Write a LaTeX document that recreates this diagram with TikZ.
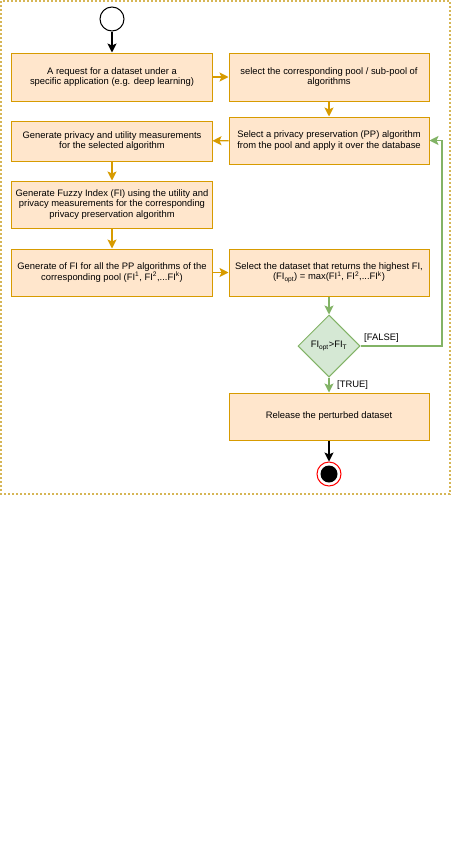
\documentclass[tikz,border=0pt]{standalone}
\usepackage{fontspec}
\setmainfont{Liberation Sans}
\usepackage{tikz}
\usetikzlibrary{shapes,arrows.meta,shapes.geometric}
\definecolor{boxfill}{HTML}{FFE6CC}
\definecolor{boxline}{HTML}{D79B00}
\definecolor{decfill}{HTML}{D5E8D4}
\definecolor{decline}{HTML}{82B366}
\definecolor{frameline}{HTML}{D6B656}
\tikzset{
  stepbox/.style={ draw=boxline, fill=boxfill, line width=1bp, minimum width=200bp, minimum height=47bp, inner sep=0pt, align=center, font=\fontsize{9.4bp}{10.7bp}\selectfont }
}
\tikzset{
  decide/.style={ draw=decline, fill=decfill, line width=1bp, diamond, minimum width=62bp, minimum height=62bp, inner sep=0pt, font=\fontsize{9.4bp}{10.7bp}\selectfont }
}
\tikzset{
  startnode/.style={ draw, circle, fill=white, line width=1bp, minimum size=24bp }
}
\tikzset{
  endnode/.style={ draw=red, circle, fill=white, line width=1bp, minimum size=24bp,
    path picture={\fill[black] (path picture bounding box.center) circle (8.5bp);} }
}
\tikzset{
  oarrow/.style={ draw=boxline, line width=1.4bp, -{Stealth[length=9bp,width=9bp,inset=2bp]} },
  garrow/.style={ draw=decline, line width=1.4bp, -{Stealth[length=9bp,width=9bp,inset=2bp]} },
  karrow/.style={ draw=black, line width=1.4bp, -{Stealth[length=9bp,width=9bp,inset=2bp]} },
  guard/.style={ inner sep=0pt, anchor=west, font=\fontsize{9.4bp}{10.7bp}\selectfont }
}

\begin{document}
\begin{tikzpicture}[x=1bp, y=-1bp]
      \useasboundingbox (0,0) rectangle (474,864);
      \draw[frameline, line width=1.4bp, dash pattern=on 2bp off 2bp] (1,1) rectangle (450,494);
      \node[startnode] (start) at (112, 19) {};
      \node[stepbox, minimum height=48bp] (request) at (112, 77) {A request for a dataset under a\\specific application (e.g. deep learning)};
      \node[stepbox, minimum height=48bp] (pool) at (329, 77) {select the corresponding pool / sub-pool of\\algorithms};
      \node[stepbox] (select) at (329, 140.5) {Select a privacy preservation (PP) algorithm\\from the pool and apply it over the database};
      \node[stepbox, minimum height=40bp] (measure) at (112, 141) {Generate privacy and utility measurements\\for the selected algorithm};
      \node[stepbox] (fuzzy) at (112, 204.5) {Generate Fuzzy Index (FI) using the utility and\\privacy measurements for the corresponding\\privacy preservation algorithm};
      \node[stepbox] (allfi) at (112, 272.5) {Generate of FI for all the PP algorithms of the\\corresponding pool (FI\textsuperscript{1}, FI\textsuperscript{2},...FI\textsuperscript{k})};
      \node[stepbox] (best) at (329, 272.5) {Select the dataset that returns the highest FI,\\(FI\textsubscript{opt}) = max(FI\textsuperscript{1}, FI\textsuperscript{2},...FI\textsuperscript{k})};
      \node[decide] (check) at (329, 346) {FI\textsubscript{opt}>FI\textsubscript{T}};
      \node[stepbox] (release) at (329, 416.5) {Release the perturbed dataset};
      \node[endnode] (finish) at (329, 474) {};
      \coordinate (loop) at (442, 140.5); %corner of the false branch%
      \draw[karrow] (start) -- (request);
      \draw[oarrow] (request) -- (pool);
      \draw[oarrow] (pool) -- (select);
      \draw[oarrow] (select) -- (measure);
      \draw[oarrow] (measure) -- (fuzzy);
      \draw[oarrow] (fuzzy) -- (allfi);
      \draw[oarrow] (allfi) -- (best);
      \draw[garrow] (best) -- (check);
      \draw[garrow] (check) -- (release);
      \draw[garrow] (check.east) -| (loop) -- (select.east);
      \draw[karrow] (release) -- (finish);
      \node[guard] (false) at (364, 338) {[FALSE]};
      \node[guard] (true) at (337, 385) {[TRUE]};
    \end{tikzpicture}
\end{document}
